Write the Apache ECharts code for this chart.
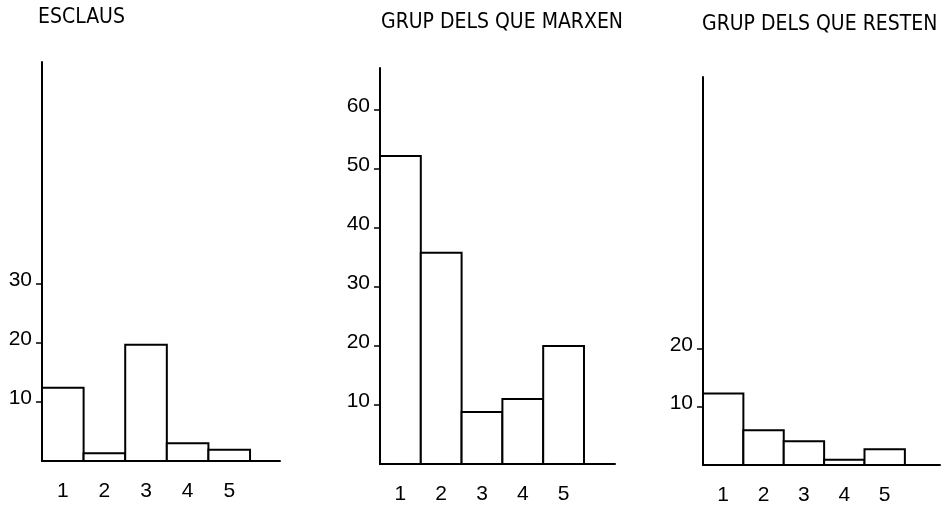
<!DOCTYPE html>
<html>
<head>
<meta charset="utf-8">
<script src="https://cdn.jsdelivr.net/npm/echarts@6/dist/echarts.min.js"></script>
<style>
html,body{margin:0;padding:0;background:#fff;}
#c{width:946px;height:506px;}
</style>
</head>
<body>
<div id="c"></div>
<script>
// ---- data ----
const categories = [1, 2, 3, 4, 5];
const titles = ['ESCLAUS', 'GRUP DELS QUE MARXEN', 'GRUP DELS QUE RESTEN'];
const esclaus = [12.4, 1.3, 19.7, 3.0, 1.9];
const marxen = [52.2, 35.8, 8.8, 11.0, 20.0];
const resten = [12.3, 6.0, 4.1, 0.9, 2.7];
const yTicksEsclaus = [10, 20, 30];
const yTicksMarxen = [10, 20, 30, 40, 50, 60];
const yTicksResten = [10, 20];

const TITLE_FONT = '"Liberation Sans Narrow", "DejaVu Sans Condensed", "Liberation Sans", sans-serif';
const NUM_FONT = '"Liberation Sans", Arial, sans-serif';
const seriesValues = [esclaus, marxen, resten];
const yTicks = [yTicksEsclaus, yTicksMarxen, yTicksResten];

const grids = [
  {left: 42, top: 62, width: 238, height: 399},
  {left: 380, top: 68, width: 235, height: 396},
  {left: 703, top: 77, width: 237, height: 391}
];
const xMax = [6.22, 6.26, 6.37];
const yMax = [67.6, 67.1, 66.8];
const titlePos = [{left: 38, top: 7}, {left: 381, top: 12}, {left: 702, top: 14}];

function renderBar(params, api) {
  const x = api.value(0), y = api.value(1);
  const p0 = api.coord([x - 0.5, y]);
  const p1 = api.coord([x + 0.5, 0]);
  return {
    type: 'rect',
    shape: {x: p0[0], y: p0[1], width: p1[0] - p0[0], height: p1[1] - p0[1]},
    style: {fill: '#fff', stroke: '#000', lineWidth: 2}
  };
}

const option = {
  backgroundColor: '#fff',
  animation: false,
  title: titles.map((t, i) => ({
    text: t, left: titlePos[i].left, top: titlePos[i].top, padding: 0,
    textStyle: {fontFamily: TITLE_FONT, fontSize: 21, fontWeight: 'normal', color: '#000'}
  })),
  grid: grids,
  xAxis: grids.map((g, i) => ({
    type: 'value', gridIndex: i, min: 0.5, max: xMax[i],
    splitLine: {show: false},
    axisLine: {show: true, onZero: false, lineStyle: {color: '#000', width: 2}},
    axisTick: {show: false},
    axisLabel: {
      customValues: categories, margin: 20, color: '#000',
      fontFamily: NUM_FONT, fontSize: 21,
      formatter: v => String(v)
    }
  })),
  yAxis: grids.map((g, i) => ({
    type: 'value', gridIndex: i, min: 0, max: yMax[i],
    splitLine: {show: false},
    axisLine: {show: true, onZero: false, lineStyle: {color: '#000', width: 2}},
    axisTick: {show: true, customValues: yTicks[i], length: 6, lineStyle: {color: '#000', width: 1.5}},
    axisLabel: {
      customValues: yTicks[i], margin: 10, color: '#000',
      fontFamily: NUM_FONT, fontSize: 21,
      verticalAlign: 'bottom', lineHeight: 8,
      formatter: v => String(v)
    }
  })),
  series: seriesValues.map((vals, i) => ({
    type: 'custom', xAxisIndex: i, yAxisIndex: i,
    renderItem: renderBar,
    encode: {x: 0, y: 1},
    data: categories.map((c, j) => [c, vals[j]])
  }))
};

const chart = echarts.init(document.getElementById('c'), null, {renderer: 'canvas'});
chart.setOption(option);
</script>
</body>
</html>
